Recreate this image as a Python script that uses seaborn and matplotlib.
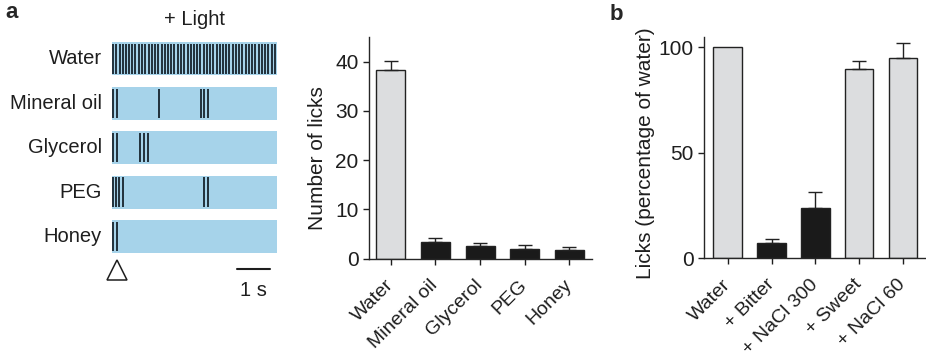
import numpy as np
import pandas as pd
import seaborn as sns
import matplotlib.pyplot as plt
from matplotlib.patches import Rectangle

sns.set_style("ticks")
plt.rcParams['font.family'] = ['Liberation Sans', 'DejaVu Sans']
plt.rcParams['axes.linewidth'] = 1.0
plt.rcParams['xtick.major.width'] = 1.0
plt.rcParams['ytick.major.width'] = 1.0
plt.rcParams['xtick.major.size'] = 4
plt.rcParams['ytick.major.size'] = 4

# panel a, raster (lick times in s, 5 s window)
rows = ['Water', 'Mineral oil', 'Glycerol', 'PEG', 'Honey']
water_licks = [0.03, 0.13, 0.23, 0.32, 0.42, 0.52, 0.62, 0.71, 0.81, 0.91,
               1.01, 1.11, 1.21, 1.30, 1.40, 1.50, 1.60, 1.70, 1.80, 1.89,
               1.99, 2.09, 2.19, 2.29, 2.38, 2.48, 2.58, 2.68, 2.78, 2.87,
               2.97, 3.07, 3.17, 3.27, 3.36, 3.46, 3.56, 3.66, 3.76, 3.85,
               3.95, 4.05, 4.15, 4.25, 4.34, 4.44, 4.54, 4.64, 4.74, 4.84, 4.93]
oil_licks = [0.04, 0.14, 1.43, 2.70, 2.80, 2.92]
glycerol_licks = [0.04, 0.14, 0.85, 0.97, 1.09]
peg_licks = [0.04, 0.12, 0.21, 0.32, 2.80, 2.92]
honey_licks = [0.04, 0.14]
lick_trains = [water_licks, oil_licks, glycerol_licks, peg_licks, honey_licks]

# panel a, bar chart
tastants = ['Water', 'Mineral oil', 'Glycerol', 'PEG', 'Honey']
n_licks = [38.3, 3.3, 2.6, 2.0, 1.8]
n_licks_sem = [1.9, 0.9, 0.5, 0.7, 0.6]

# panel b
conditions = ['Water', '+ Bitter', '+ NaCl 300', '+ Sweet', '+ NaCl 60']
pct_water = [100.0, 7.4, 24.0, 89.7, 95.1]
pct_sem = [0.0, 1.9, 7.5, 4.0, 6.8]

grey = '#dcdddf'
dark = '#1a1a1a'
blue = '#a6d3ea'
txt = '#1e1e1e'

fig = plt.figure(figsize=(9.26, 3.61), dpi=100)

# ---- raster
ax0 = fig.add_axes([112/926, 61/361, 165/926, 270/361])
ax0.set_xlim(0, 5)
ax0.set_ylim(5.43, -0.65)
ax0.axis('off')
for i, (name, licks) in enumerate(zip(rows, lick_trains)):
    ax0.add_patch(Rectangle((0, i - 0.37), 5, 0.74, color=blue, lw=0))
    ax0.vlines(licks, i - 0.33, i + 0.33, color='#17232d', lw=1.3)
    ax0.text(-0.3, i, name, ha='right', va='center', fontsize=14.5, color=txt)
ax0.text(2.5, -0.88, '+ Light', ha='center', va='center', fontsize=14.5, color=txt, clip_on=False)
ax0.plot([0.15], [4.76], marker='^', ms=14, mfc='white', mec=txt, mew=1.1, clip_on=False)
ax0.plot([3.79, 4.79], [4.74, 4.74], color=txt, lw=1.5, clip_on=False)
ax0.text(4.3, 5.22, '1 s', ha='center', va='center', fontsize=14.5, color=txt)


def bars(ax, cats, vals, errs, colors, ylim, yticks, ylabel, xlim, lab_xy):
    df = pd.DataFrame({'cat': cats, 'val': vals})
    sns.barplot(data=df, x='cat', y='val', hue='cat', palette=colors, legend=False,
                width=0.65, edgecolor='#222222', linewidth=1.0, ax=ax)
    idx = [i for i, e in enumerate(errs) if e > 0]
    ax.errorbar(idx, [vals[i] for i in idx], yerr=[[0] * len(idx), [errs[i] for i in idx]],
                fmt='none', ecolor='#222222', elinewidth=1.0, capsize=5, capthick=1.0)
    ax.set_ylim(*ylim)
    ax.set_xlim(*xlim)
    ax.set_yticks(yticks)
    ax.set_xlabel('')
    ax.set_ylabel(ylabel, fontsize=15, color=txt)
    ax.yaxis.set_label_coords(*lab_xy)
    ax.tick_params(axis='y', labelsize=15, colors=txt)
    ax.tick_params(axis='x', labelsize=14, colors=txt)
    ax.set_xticks(np.arange(len(cats)))
    ax.set_xticklabels(cats, rotation=45, ha='right', va='center', rotation_mode='anchor')
    for t in ax.get_xticklabels():
        t.set_y(-0.06)
    sns.despine(ax=ax)


ax1 = fig.add_axes([369/926, 102.3/361, 222.7/926, 221.7/361])
bars(ax1, tastants, n_licks, n_licks_sem, [grey, dark, dark, dark, dark],
     (0, 45), [0, 10, 20, 30, 40], 'Number of licks', (-0.49, 4.5), (-0.19, 0.454))

ax2 = fig.add_axes([704/926, 102.7/361, 221/926, 221.6/361])
bars(ax2, conditions, pct_water, pct_sem, [grey, dark, dark, grey, grey],
     (0, 105), [0, 50, 100], 'Licks (percentage of water)', (-0.54, 4.5), (-0.222, 0.473))

fig.text(5/926, 1 - 13/361, 'a', fontsize=16, fontweight='bold', va='center', ha='left')
fig.text(610/926, 1 - 14/361, 'b', fontsize=16, fontweight='bold', va='center', ha='left')

fig.savefig('out.png', dpi=100)
